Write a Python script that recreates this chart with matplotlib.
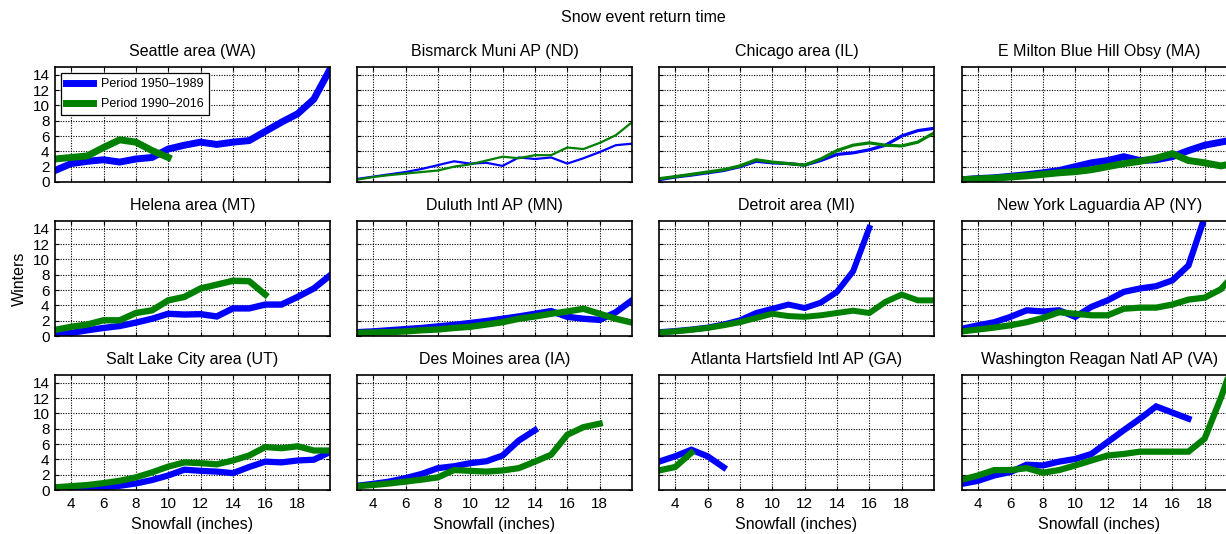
#!/usr/bin/env python3
"""Snow event return time: winters between events by snowfall threshold, two periods."""

import matplotlib

matplotlib.use("Agg")
import matplotlib.pyplot as plt
import numpy as np


SNOWFALL = np.arange(3, 21)  # inches, 3..20

STATIONS = [
    "Seattle area (WA)",
    "Bismarck Muni AP (ND)",
    "Chicago area (IL)",
    "E Milton Blue Hill Obsy (MA)",
    "Helena area (MT)",
    "Duluth Intl AP (MN)",
    "Detroit area (MI)",
    "New York Laguardia AP (NY)",
    "Salt Lake City area (UT)",
    "Des Moines area (IA)",
    "Atlanta Hartsfield Intl AP (GA)",
    "Washington Reagan Natl AP (VA)",
]

# Period 1950-1989 (blue), winters, starting at 3 inches
EARLY = [
    [1.5, 2.4, 2.7, 2.9, 2.6, 3.0, 3.2, 4.3, 4.8, 5.2, 4.9, 5.2, 5.4, 6.6, 7.8, 8.9, 10.8, 14.7],
    [0.4, 0.7, 1.0, 1.3, 1.7, 2.2, 2.7, 2.4, 2.5, 2.1, 3.2, 3.0, 3.2, 2.4, 3.1, 3.9, 4.8, 5.0],
    [0.3, 0.65, 0.9, 1.2, 1.5, 2.0, 2.7, 2.5, 2.4, 2.2, 2.8, 3.6, 3.8, 4.2, 4.8, 6.0, 6.7, 7.0],
    [0.3, 0.45, 0.55, 0.75, 0.95, 1.2, 1.5, 2.0, 2.5, 2.8, 3.3, 2.8, 2.9, 3.3, 4.1, 4.8, 5.2, 5.6],
    [0.1, 0.4, 0.75, 1.05, 1.3, 1.75, 2.25, 2.9, 2.8, 2.85, 2.55, 3.6, 3.6, 4.1, 4.1, 5.1, 6.2, 7.9],
    [0.5, 0.6, 0.75, 0.9, 1.05, 1.25, 1.45, 1.7, 1.95, 2.25, 2.55, 2.9, 3.25, 2.5, 2.25, 2.1, 3.1, 4.65],
    [0.5, 0.65, 0.85, 1.1, 1.5, 2.05, 3.0, 3.55, 4.1, 3.65, 4.35, 5.75, 8.45, 14.1],
    [0.95, 1.4, 1.8, 2.5, 3.35, 3.2, 3.35, 2.5, 3.8, 4.65, 5.75, 6.2, 6.5, 7.25, 9.2, 15.5],
    [0.1, 0.1, 0.2, 0.35, 0.55, 0.85, 1.3, 1.9, 2.65, 2.5, 2.4, 2.2, 3.0, 3.7, 3.6, 3.85, 3.95, 4.95],
    [0.55, 0.8, 1.1, 1.55, 2.1, 2.85, 3.1, 3.5, 3.75, 4.5, 6.45, 7.8],
    [3.7, 4.4, 5.25, 4.4, 2.95],
    [0.8, 1.2, 1.9, 2.35, 3.3, 3.2, 3.7, 4.05, 4.7, 6.25, 7.8, 9.3, 10.9, 10.1, 9.3],
]

# Period 1990-2016 (green)
LATE = [
    [3.0, 3.2, 3.4, 4.5, 5.5, 5.2, 4.1, 3.2],
    [0.3, 0.65, 0.9, 1.1, 1.3, 1.5, 2.0, 2.3, 2.8, 3.3, 3.1, 3.5, 3.5, 4.5, 4.3, 5.1, 6.1, 7.8],
    [0.43, 0.7, 1.0, 1.3, 1.6, 2.1, 2.9, 2.6, 2.4, 2.2, 3.0, 4.1, 4.8, 5.1, 4.8, 4.7, 5.2, 6.4],
    [0.3, 0.4, 0.5, 0.65, 0.8, 1.0, 1.2, 1.35, 1.6, 2.0, 2.4, 2.7, 3.1, 3.7, 2.8, 2.5, 2.1, 2.5],
    [0.8, 1.2, 1.5, 2.05, 2.05, 3.0, 3.35, 4.65, 5.1, 6.2, 6.7, 7.2, 7.15, 5.4],
    [0.4, 0.45, 0.5, 0.6, 0.75, 0.85, 1.05, 1.2, 1.5, 1.8, 2.25, 2.55, 2.9, 3.2, 3.55, 2.9, 2.25, 1.75],
    [0.45, 0.6, 0.8, 1.05, 1.4, 1.8, 2.35, 2.9, 2.6, 2.5, 2.7, 3.0, 3.3, 3.0, 4.45, 5.4, 4.65, 4.65],
    [0.6, 0.85, 1.1, 1.4, 1.8, 2.35, 3.1, 2.9, 2.7, 2.7, 3.55, 3.7, 3.7, 4.1, 4.75, 5.0, 6.1, 8.4],
    [0.35, 0.5, 0.65, 0.9, 1.2, 1.65, 2.3, 3.05, 3.6, 3.5, 3.35, 3.85, 4.5, 5.6, 5.45, 5.7, 5.15, 5.15],
    [0.5, 0.65, 0.85, 1.1, 1.35, 1.65, 2.6, 2.5, 2.4, 2.55, 2.85, 3.7, 4.6, 7.2, 8.2, 8.65],
    [2.55, 3.0, 4.85],
    [1.35, 1.9, 2.6, 2.6, 2.85, 2.25, 2.6, 3.2, 3.85, 4.5, 4.7, 5.0, 5.0, 5.0, 5.0, 6.7, 12.0, 18.0],
]

LINE_WIDTHS = [5.0, 1.6, 2.3, 5.0, 4.6, 4.6, 4.3, 4.5, 4.5, 4.5, 4.5, 4.5]

X_TICKS = np.arange(4, 19, 2)
Y_TICKS = np.arange(0, 15, 2)

W, H = 1226, 534
COL_LEFT = [55, 357, 659, 962]
ROW_TOP = [67, 221, 375]
AX_W, AX_H = 275, 115

BLUE = "#0000ff"
GREEN = "#008000"


def main() -> None:
    plt.rcParams.update(
        {
            "font.family": ["Liberation Sans", "DejaVu Sans"],
            "font.size": 11,
        }
    )

    fig = plt.figure(figsize=(W / 100, H / 100), dpi=100)

    for i, name in enumerate(STATIONS):
        row, col = divmod(i, 4)
        left = COL_LEFT[col] / W
        bottom = 1 - (ROW_TOP[row] + AX_H) / H
        ax = fig.add_axes([left, bottom, AX_W / W, AX_H / H])

        early = np.array(EARLY[i])
        late = np.array(LATE[i])
        lw = LINE_WIDTHS[i]
        ax.plot(SNOWFALL[: len(early)], early, color=BLUE, linewidth=lw,
                label="Period 1950\u20131989", solid_joinstyle="miter")
        ax.plot(SNOWFALL[: len(late)], late, color=GREEN, linewidth=lw,
                label="Period 1990\u20132016", solid_joinstyle="miter")

        ax.set_xlim(3, 20)
        ax.set_ylim(0, 15)
        ax.set_xticks(X_TICKS)
        ax.set_yticks(Y_TICKS)
        ax.grid(True, color="black", linestyle=(0, (1, 1.3)), linewidth=0.8)
        ax.tick_params(direction="in", top=True, right=True, length=3,
                       width=0.8, labelsize=11, pad=4)
        ax.tick_params(axis="x", pad=5)
        for spine in ax.spines.values():
            spine.set_linewidth(1.2)
        ax.set_title(name, fontsize=11.5, pad=8)

        if col != 0:
            ax.tick_params(labelleft=False)
        if row != 2:
            ax.tick_params(labelbottom=False)
        else:
            ax.set_xlabel("Snowfall (inches)", fontsize=11.5, labelpad=4)
        if row == 1 and col == 0:
            ax.set_ylabel("Winters", fontsize=11.5, labelpad=4)

        if i == 0:
            leg = ax.legend(loc="upper left", fontsize=9, fancybox=False,
                            framealpha=1, edgecolor="black", handlelength=2.1,
                            borderpad=0.4, labelspacing=0.65,
                            handletextpad=0.7, bbox_to_anchor=(0.0, 1.0))
            leg.get_frame().set_linewidth(0.9)
            for line in leg.get_lines():
                line.set_linewidth(5)

    fig.text(643 / W, 1 - 18 / H, "Snow event return time", ha="center",
             va="center", fontsize=11.5)

    fig.savefig("out.png", dpi=100)


if __name__ == "__main__":
    main()
